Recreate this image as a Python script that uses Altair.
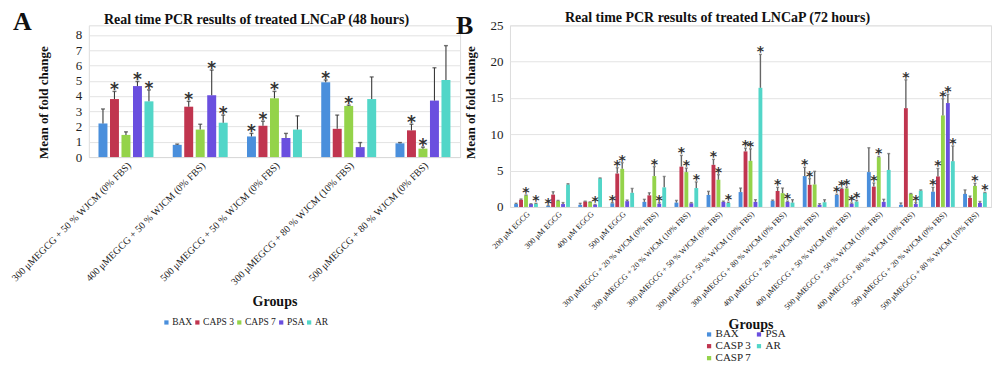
import altair as alt
import pandas as pd

# ---------------- Panel A (48 hours) ----------------
groups_a = [
    "300 μMEGCG + 50 % WJCM (0% FBS)",
    "400 μMEGCG + 50 % WJCM (0% FBS)",
    "500 μMEGCG + 50 % WJCM (0% FBS)",
    "300 μMEGCG + 80 % WJCM (10% FBS)",
    "500 μMEGCG + 80 % WJCM (0% FBS)",
]
series_a = ["BAX", "CAPS 3", "CAPS 7", "PSA", "AR"]
colors_a = ["#4a8fdc", "#c0354f", "#94d34a", "#6a4fdf", "#52d6c8"]

mean_a_bax = [2.2, 0.8, 1.35, 4.9, 0.9]
mean_a_caps3 = [3.8, 3.3, 2.05, 1.85, 1.75]
mean_a_caps7 = [1.45, 1.8, 3.85, 3.35, 0.55]
mean_a_psa = [4.65, 4.05, 1.25, 0.65, 3.7]
mean_a_ar = [3.65, 2.25, 1.8, 3.8, 5.05]

top_a_bax = [3.15, 0.85, 1.55, 5.05, 0.95]
top_a_caps3 = [4.3, 3.65, 2.35, 2.75, 2.15]
top_a_caps7 = [1.65, 2.15, 4.3, 3.4, 0.65]
top_a_psa = [4.95, 5.7, 1.55, 0.95, 5.85]
top_a_ar = [4.4, 2.75, 2.7, 5.25, 7.3]

star_a_bax = [0, 0, 1, 1, 0]
star_a_caps3 = [1, 1, 1, 0, 1]
star_a_caps7 = [0, 0, 1, 1, 1]
star_a_psa = [1, 1, 0, 0, 0]
star_a_ar = [1, 1, 0, 0, 0]

# ---------------- Panel B (72 hours) ----------------
groups_b = [
    "200 μM EGCG",
    "300 μM EGCG",
    "400 μM EGCG",
    "500 μM EGCG",
    "300 μMEGCG + 20 % WJCM (0% FBS)",
    "300 μMEGCG + 20 % WJCM (10% FBS)",
    "300 μMEGCG + 50 % WJCM (0% FBS)",
    "300 μMEGCG + 50 % WJCM (10% FBS)",
    "300 μMEGCG + 80 % WJCM (0% FBS)",
    "400 μMEGCG + 20 % WJCM (0% FBS)",
    "400 μMEGCG + 50 % WJCM (0% FBS)",
    "500 μMEGCG + 50 % WJCM (10% FBS)",
    "400 μMEGCG + 80 % WJCM (10% FBS)",
    "500 μMEGCG + 20 % WJCM (0% FBS)",
    "500 μMEGCG + 80 % WJCM (10% FBS)",
]
series_b = ["BAX", "CASP 3", "CASP 7", "PSA", "AR"]
colors_b = ["#4a8fdc", "#c0354f", "#94d34a", "#6a4fdf", "#52d6c8"]

mean_b_bax = [0.4, 0.15, 0.3, 0.5, 0.7, 0.6, 1.65, 2.05, 0.85, 4.25, 1.65, 4.8, 0.3, 2.1, 1.8]
mean_b_casp3 = [1.0, 1.7, 0.75, 4.6, 1.6, 5.55, 5.8, 7.65, 2.2, 3.05, 2.5, 2.8, 13.6, 4.2, 1.25]
mean_b_casp7 = [1.6, 0.85, 0.7, 5.25, 4.25, 4.8, 3.75, 6.35, 1.9, 3.1, 2.55, 6.85, 1.8, 12.6, 2.9]
mean_b_psa = [0.4, 0.4, 0.3, 0.8, 0.45, 0.5, 0.7, 0.7, 0.7, 0.3, 0.45, 0.7, 0.4, 14.3, 0.55]
mean_b_ar = [0.45, 3.1, 3.95, 1.95, 2.7, 2.6, 0.55, 16.4, 0.6, 0.65, 0.75, 5.1, 2.25, 6.3, 1.95]

top_b_bax = [0.5, 0.2, 0.5, 0.6, 1.05, 0.9, 2.15, 2.6, 0.95, 5.45, 1.75, 8.15, 0.55, 2.7, 2.35]
top_b_casp3 = [1.1, 2.1, 0.8, 5.4, 1.95, 7.1, 6.55, 8.1, 2.7, 3.9, 2.6, 3.3, 17.5, 5.3, 1.5]
top_b_casp7 = [1.65, 0.9, 0.7, 6.1, 5.55, 5.35, 4.45, 8.0, 2.6, 4.9, 2.75, 6.95, 1.85, 14.9, 3.25]
top_b_psa = [0.45, 0.6, 0.35, 0.95, 0.6, 0.6, 0.8, 1.0, 0.8, 0.45, 0.55, 1.05, 0.6, 15.5, 0.75]
top_b_ar = [0.5, 3.2, 4.0, 2.55, 4.2, 3.45, 0.65, 21.0, 1.0, 1.0, 0.9, 7.35, 2.35, 8.4, 2.0]

star_b_bax = [0, 1, 0, 1, 0, 0, 0, 0, 0, 1, 1, 0, 0, 1, 0]
star_b_casp3 = [0, 0, 0, 1, 0, 1, 1, 1, 1, 1, 1, 1, 1, 1, 0]
star_b_casp7 = [1, 0, 0, 1, 1, 1, 1, 1, 0, 0, 1, 1, 0, 1, 1]
star_b_psa = [0, 0, 1, 0, 1, 0, 0, 0, 1, 0, 1, 0, 1, 1, 0]
star_b_ar = [1, 0, 0, 0, 0, 1, 1, 1, 0, 0, 1, 0, 0, 1, 1]


def build(groups, series, means, tops, stars):
    rows = []
    for gi, g in enumerate(groups):
        for s, m, t, st in zip(series, means, tops, stars):
            rows.append({"group": g, "series": s, "mean": m[gi], "top": t[gi], "star": st[gi]})
    return pd.DataFrame(rows)


df_a = build(groups_a, series_a,
             [mean_a_bax, mean_a_caps3, mean_a_caps7, mean_a_psa, mean_a_ar],
             [top_a_bax, top_a_caps3, top_a_caps7, top_a_psa, top_a_ar],
             [star_a_bax, star_a_caps3, star_a_caps7, star_a_psa, star_a_ar])
df_b = build(groups_b, series_b,
             [mean_b_bax, mean_b_casp3, mean_b_casp7, mean_b_psa, mean_b_ar],
             [top_b_bax, top_b_casp3, top_b_casp7, top_b_psa, top_b_ar],
             [star_b_bax, star_b_casp3, star_b_casp7, star_b_psa, star_b_ar])

SERIF = "Liberation Serif"


def panel(df, groups, series, colors, ymax, yticks, w, h,
          title, title_dx, title_dy, letter, letter_x, letter_y,
          xlabel_size, xtitle_pad, ytitle_pad, ytitle_y, legend_cfg,
          star_size, star_dy, cap, err_color, err_width):
    x = alt.X("group:N", sort=groups,
              scale=alt.Scale(paddingInner=0.26, paddingOuter=0.13),
              axis=alt.Axis(title="Groups", labelAngle=-45, labelFont=SERIF,
                            labelFontSize=xlabel_size, labelColor="#222", labelLimit=400,
                            labelPadding=3, ticks=False, domainColor="#d9d9d9",
                            titleFont=SERIF, titleFontSize=14, titleFontWeight="bold",
                            titleColor="#111", titlePadding=xtitle_pad))
    xo = alt.XOffset("series:N", sort=series,
                     scale=alt.Scale(paddingInner=0.22, paddingOuter=0))
    yscale = alt.Scale(domain=[0, ymax], nice=False, zero=True)
    yaxis = alt.Axis(title="Mean of fold change", values=yticks, grid=True,
                     gridColor="#e3e3e3", domain=False, ticks=False,
                     labelOverlap=False, labelFont=SERIF, labelFontSize=13,
                     labelColor="#222", labelPadding=7, titleFont=SERIF,
                     titleFontSize=13, titleFontWeight="bold", titleColor="#111",
                     titlePadding=ytitle_pad, titleY=ytitle_y)

    def Y(field):
        return alt.Y(field, scale=yscale, axis=yaxis, title="Mean of fold change")

    base = alt.Chart(df)
    bars = base.mark_bar().encode(
        x=x, xOffset=xo, y=Y("mean:Q"),
        color=alt.Color("series:N", sort=series,
                        scale=alt.Scale(domain=series, range=colors),
                        legend=alt.Legend(**legend_cfg)),
    )
    rule = base.mark_rule(color=err_color, strokeWidth=err_width).encode(
        x=x, xOffset=xo, y=Y("mean:Q"), y2="top:Q")
    capm = base.mark_tick(color=err_color, orient="horizontal", size=cap,
                          thickness=1.4).encode(x=x, xOffset=xo, y=Y("top:Q"))
    st = base.transform_filter("datum.star == 1").mark_text(
        text="*", font="DejaVu Sans", fontWeight="bold", fontSize=star_size,
        color="#333", baseline="alphabetic", dy=star_dy).encode(
        x=x, xOffset=xo, y=Y("top:Q"))
    let = alt.Chart(pd.DataFrame({"t": [letter]})).mark_text(
        font=SERIF, fontWeight="bold", fontSize=26, align="left", baseline="middle",
        color="#111").encode(x=alt.value(letter_x), y=alt.value(letter_y), text="t:N")
    return alt.layer(bars, rule, capm, st, let).properties(
        width=w, height=h,
        title=alt.TitleParams(title, font=SERIF, fontSize=14, fontWeight="bold",
                              color="#111", dx=title_dx, dy=title_dy, offset=2))


legend_a = dict(orient="none", legendX=73, legendY=293, direction="horizontal",
                title=None, symbolType="square", symbolSize=18, symbolStrokeWidth=0,
                labelFont=SERIF, labelFontSize=9.5, labelColor="#222",
                columnPadding=0, labelOffset=1, gridAlign="none")
legend_b = dict(orient="none", legendX=194, legendY=304, columns=2,
                title=None, symbolType="square", symbolSize=18, symbolStrokeWidth=0,
                labelFont=SERIF, labelFontSize=11, labelColor="#222",
                columnPadding=2, rowPadding=0, labelOffset=1)

chart_a = panel(df_a, groups_a, series_a, colors_a, 8.63, list(range(0, 9)),
                372, 132, "Real time PCR results of treated LNCaP (48 hours)", -18, 20,
                "A", -76, -3, 10, 8, 25, 77, legend_a, 17, 4, 4, "#3a3a3a", 1.1)

chart_b = panel(df_b, groups_b, series_b, colors_b, 25, [0, 5, 10, 15, 20, 25],
                482, 182, "Real time PCR results of treated LNCaP (72 hours)", -33, 14,
                "B", -54, 1, 8, 6, 13, 77, legend_b, 14, 2, 3, "#666666", 1.4)

chart = alt.hconcat(chart_a, chart_b, spacing=50, bounds="flush").resolve_scale(
    color="independent", x="independent", xOffset="independent", y="independent"
).properties(padding={"left": 0, "top": 0, "right": 0, "bottom": 0}).configure_view(
    stroke=None).configure(background="white")

chart.save("out.html", embed_options={"renderer": "svg", "actions": False})
